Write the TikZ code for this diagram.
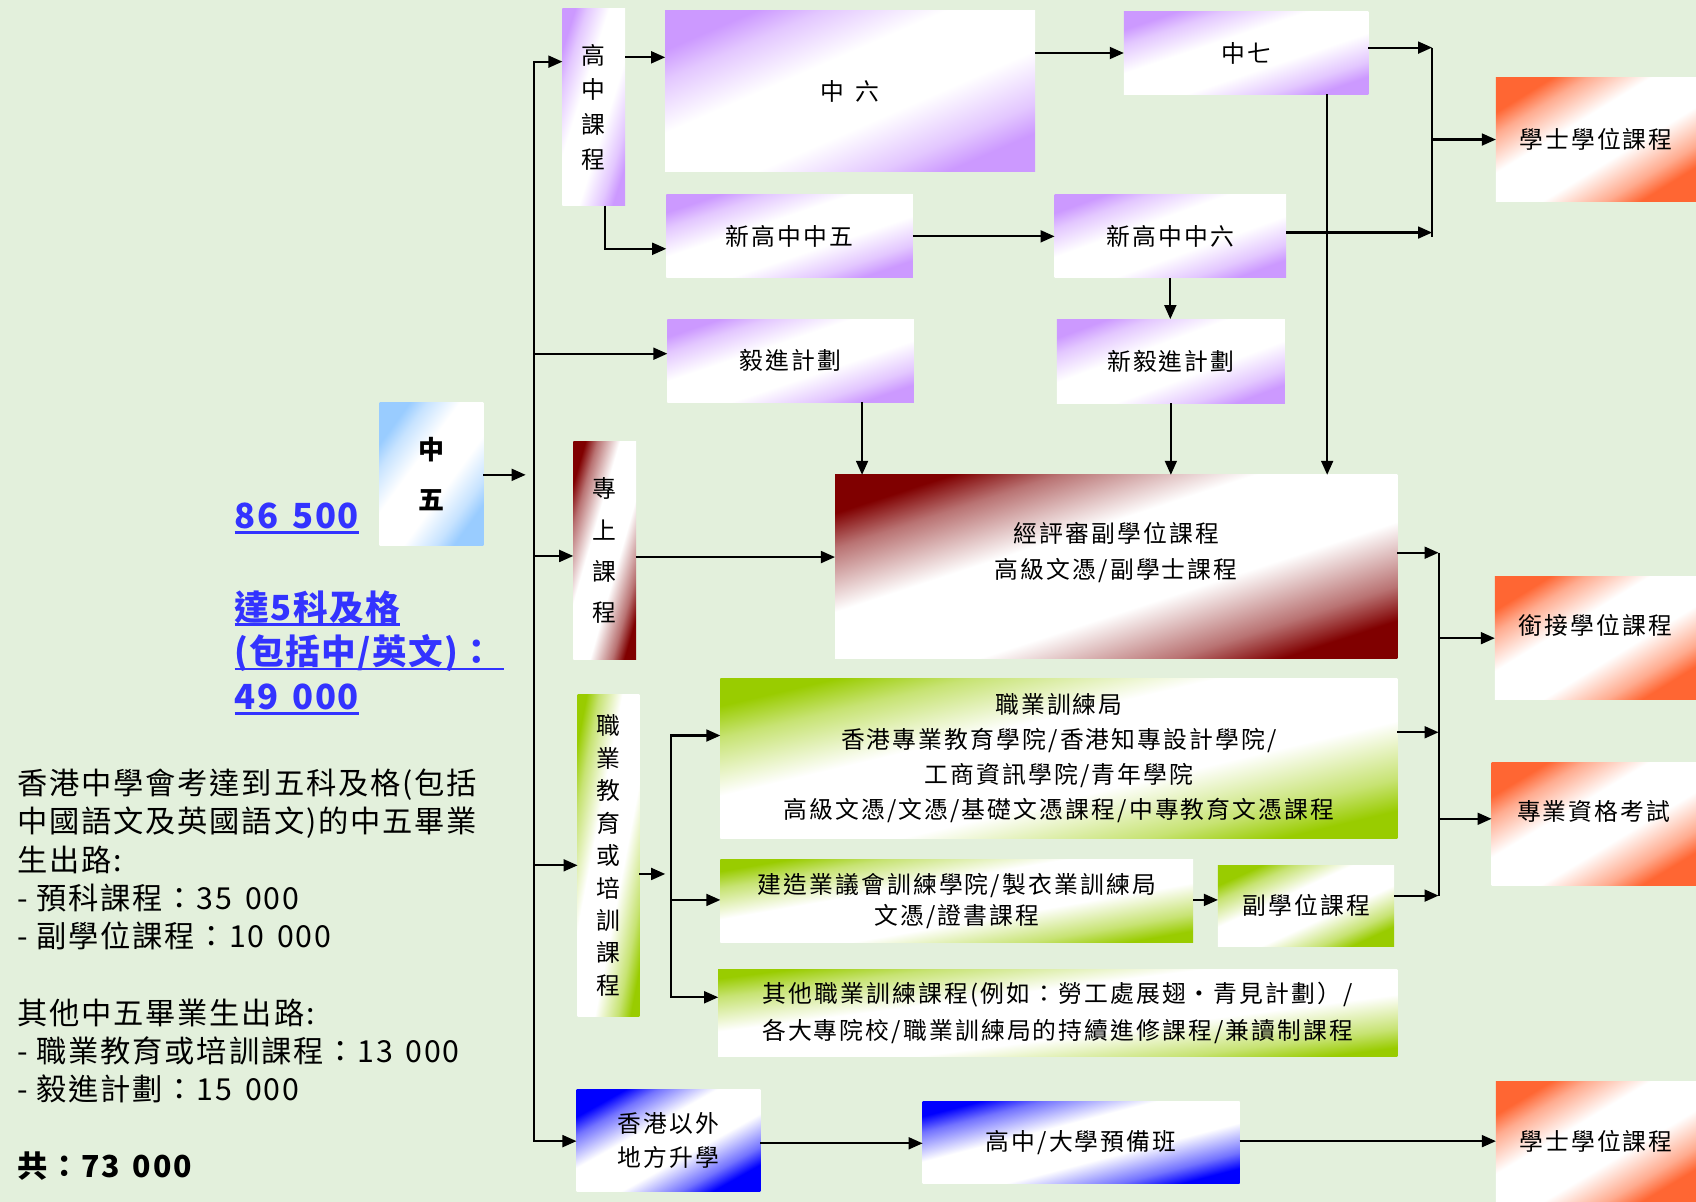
\documentclass[tikz,border=0pt]{standalone}
\usepackage{fontspec}
\setmainfont{Noto Sans CJK TC}
\newfontfamily\boxfont[LetterSpace=9]{Noto Sans CJK TC}
\newfontfamily\sidefont[LetterSpace=6]{Noto Sans CJK TC}
\newfontfamily\notefont[LetterSpace=4]{Noto Sans CJK TC}
\usetikzlibrary{arrows.meta}
\usetikzlibrary{positioning}
\definecolor{bgpale}{RGB}{227,240,220}
\definecolor{lilac}{RGB}{204,153,255}
\definecolor{skyish}{RGB}{153,204,255}
\definecolor{wine}{RGB}{128,0,0}
\definecolor{leaf}{RGB}{153,204,0}
\definecolor{tangerine}{RGB}{255,102,51}
\definecolor{deepblue}{RGB}{0,0,255}
\definecolor{linkblue}{RGB}{51,51,255}
% colour in two corners, white band along the diagonal
\newcommand{\fadeshading}[1]{%
 \pgfdeclareverticalshading{fade#1}{100bp}{color(0bp)=(#1); color(25bp)=(#1);
   color(31bp)=(#1!55!white); color(42bp)=(white); color(58bp)=(white);
   color(69bp)=(#1!55!white); color(75bp)=(#1); color(100bp)=(#1)}}
\fadeshading{lilac}
\fadeshading{skyish}
\fadeshading{wine}
\fadeshading{leaf}
\fadeshading{tangerine}
\fadeshading{deepblue}
% underline drawn as a rule below the text
\newcommand{\uln}[1]{\setbox0\hbox{#1}\rlap{\rule[-5pt]{\wd0}{2.5pt}}\box0}
\newcommand{\numgap}{\hspace{0.42em}}
\tikzset{
    stepbox/.style={
           rectangle,
           inner sep=0pt, outer sep=0pt,
           align=center,
           font=\boxfont\fontsize{22}{32}\selectfont,
           },
    % colour, width, height
    shadebox/.style n args={3}{
           stepbox,
           minimum width=#2pt, minimum height=#3pt,
           shade, shading=fade#1,
           /utils/exec={\pgfmathsetmacro\fadeangle{atan(#3/#2)}},
           shading angle/.expanded=\fadeangle,
           },
    raised/.style={text depth=#1},
}

\begin{document}
\begin{tikzpicture}[x=1pt,y=-1pt,->,>={Triangle[length=13pt,width=11pt]},line width=2pt]

 \useasboundingbox (0,0) rectangle (1568,1111);
 \fill[bgpale,-] (0,0) rectangle (1568,1111);

 % left column: 中五 and the notes
 \node[shadebox={skyish}{96}{132},
  font=\boxfont\bfseries\fontsize{24}{46}\selectfont] (f5) at (399,438) {中\\五};

 \node[anchor=west, inner sep=0pt, text=linkblue,
  font=\notefont\bfseries\fontsize{32}{41}\selectfont] (total) at (216,479) {\uln{86\numgap 500}};
 \node[anchor=west, inner sep=0pt, align=left, text=linkblue,
  font=\notefont\bfseries\fontsize{32}{41}\selectfont] (pass) at (216,603.5)
  {\uln{達5科及格}\\\uln{(包括中/英文)：\ }\\\uln{49\numgap 000}};

 \node[anchor=west, inner sep=0pt, align=left,
  font=\sidefont\fontsize{28}{35.4}\selectfont] (notes) at (15,901)
  {香港中學會考達到五科及格(包括\\
   中國語文及英國語文)的中五畢業\\
   生出路:\\
   - 預科課程：35\numgap 000\\
   - 副學位課程：10\numgap 000\\[35.4pt]
   其他中五畢業生出路:\\
   - 職業教育或培訓課程：13\numgap 000\\
   - 毅進計劃：15\numgap 000\\[35.4pt]
   \textbf{共：73\numgap 000}};

 % upper branch: 高中課程
 \node[shadebox={lilac}{58}{182}] (gz) at (549,99) {高\\中\\課\\程};
 \node[shadebox={lilac}{342}{149}] (s6) at (786,84.5) {中\hspace{10pt}六};
 \node[shadebox={lilac}{226}{76}] (s7) at (1152,49) {中七};
 \node[shadebox={lilac}{228}{77}] (ns5) at (730,218.5) {新高中中五};
 \node[shadebox={lilac}{214}{77}] (ns6) at (1082,218.5) {新高中中六};
 \node[shadebox={lilac}{228}{77}] (yj) at (731,333.5) {毅進計劃};
 \node[shadebox={lilac}{211}{78}] (nyj) at (1082.5,334) {新毅進計劃};

 % 專上課程
 \node[shadebox={wine}{58}{202},
  font=\boxfont\fontsize{22}{38}\selectfont] (zs) at (559,509) {專\\上\\課\\程};
 \node[shadebox={wine}{520}{170},
  font=\boxfont\fontsize{22}{33}\selectfont, raised=30pt] (asd) at (1032,524)
  {經評審副學位課程\\高級文憑/副學士課程};

 % 職業教育或培訓課程
 \node[shadebox={leaf}{57}{298},
  font=\boxfont\fontsize{22}{30}\selectfont] (vt) at (562.5,791)
  {職\\業\\教\\育\\或\\培\\訓\\課\\程};
 \node[shadebox={leaf}{626}{148},
  font=\boxfont\fontsize{22}{32.3}\selectfont] (vtc) at (979,701)
  {職業訓練局\\香港專業教育學院/香港知專設計學院/\\工商資訊學院/青年學院\\高級文憑/文憑/基礎文憑課程/中專教育文憑課程};
 \node[shadebox={leaf}{437}{76},
  font=\boxfont\fontsize{22}{29}\selectfont] (cic) at (884.5,833)
  {建造業議會訓練學院/製衣業訓練局\\文憑/證書課程};
 \node[shadebox={leaf}{163}{75}] (ad2) at (1207.5,837.5) {副學位課程};
 \node[shadebox={leaf}{628}{81},
  font=\boxfont\fontsize{22}{35}\selectfont] (oth) at (978,936.5)
  {其他職業訓練課程(例如：勞工處展翅‧青見計劃）/\\各大專院校/職業訓練局的持續進修課程/兼讀制課程};

 % 香港以外地方升學
 \node[shadebox={deepblue}{170}{95}] (abr) at (618,1054.5) {香港以外\\地方升學};
 \node[shadebox={deepblue}{293}{76}] (pre) at (999.5,1056) {高中/大學預備班};

 % outcomes on the right
 \node[shadebox={tangerine}{185}{114}] (bd1) at (1475.5,129) {學士學位課程};
 \node[shadebox={tangerine}{186}{114}, raised=25pt] (xj) at (1475,590) {銜接學位課程};
 \node[shadebox={tangerine}{189}{114}, raised=25pt] (pq) at (1473.5,762) {專業資格考試};
 \node[shadebox={tangerine}{185}{111}] (bd2) at (1475.5,1055.5) {學士學位課程};

 % junction points
 \coordinate (f5tip) at (486,439);
 \coordinate (t1) at (494,57);
 \coordinate (t2) at (494,327);
 \coordinate (t3) at (494,514);
 \coordinate (t4) at (494,800);
 \coordinate (t5) at (494,1055);
 \coordinate (j1) at (1324,44);
 \coordinate (j2) at (1324,219);
 \coordinate (r1) at (1330,511);
 \coordinate (r2) at (1330,828);
 \coordinate (vtip) at (615,808);
 \coordinate (v1) at (620,680);
 \coordinate (v2) at (620,922);

 % main trunk from 中五
 \draw (f5.east |- f5tip) -- (f5tip);
 \draw[<->] (t1 -| gz.west) -- (t1) -- (t5) -- (t5 -| abr.west);
 \draw (t2) -- (t2 -| yj.west);
 \draw (t3) -- (t3 -| zs.west);
 \draw (t4) -- (t4 -| vt.west);

 % upper paths
 \draw (gz.east |- 0,53) -- (s6.west |- 0,53);
 \draw (559,0 |- gz.south) |- (ns5.west |- 0,230);
 \draw (s6.east |- s7.west) -- (s7.west);
 \draw (ns5.east) -- (ns6.west);
 \draw (ns6.south) -- (ns6.south |- nyj.north);
 \draw (s7.east |- j1) -- (j1);
 \draw[-] (j1) -- (j2);
 \draw (ns6.east |- 0,215) -- (j1 |- 0,215);
 \draw (j1 |- bd1.west) -- (bd1.west);
 \draw (1227,0 |- s7.south) -- (1227,0 |- asd.north);
 \draw (797,0 |- yj.south) -- (797,0 |- asd.north);
 \draw (nyj.south) -- (nyj.south |- asd.north);
 \draw (zs.east |- 0,515) -- (asd.west |- 0,515);

 % vocational paths
 \draw (vt.east |- vtip) -- (vtip);
 \draw[<->] (v1 -| vtc.west) -- (v1) -- (v2) -- (v2 -| oth.west);
 \draw (v1 |- 0,832) -- (cic.west |- 0,832);
 \draw (cic.east |- 0,832) -- (ad2.west |- 0,832);

 % right collector
 \draw (asd.east |- r1) -- (r1);
 \draw[-] (r1) -- (r2);
 \draw (vtc.east |- 0,677) -- (r1 |- 0,677);
 \draw (ad2.east |- r2) -- (r2);
 \draw (r1 |- xj.west) -- (xj.west);
 \draw (r1 |- 0,757) -- (pq.west |- 0,757);

 % study outside Hong Kong
 \draw (abr.east |- 0,1057) -- (pre.west |- 0,1057);
 \draw (pre.east |- 0,1055) -- (bd2.west |- 0,1055);

\end{tikzpicture}
\end{document}
